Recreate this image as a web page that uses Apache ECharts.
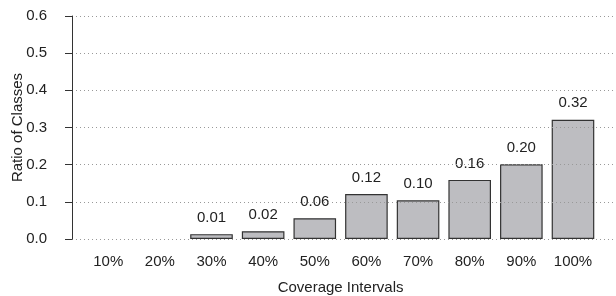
<!DOCTYPE html>
<html><head><meta charset="utf-8">
<script src="https://cdn.jsdelivr.net/npm/echarts@6/dist/echarts.min.js"></script>
<style>html,body{margin:0;padding:0;background:#fff}#c{width:616px;height:296px}</style>
</head><body><div id="c"></div>
<script>
const categories = ['10%','20%','30%','40%','50%','60%','70%','80%','90%','100%'];
const ratios = [0, 0, 0.013, 0.021, 0.056, 0.121, 0.104, 0.159, 0.201, 0.321];
const yTicks = [0, 0.1, 0.2, 0.3, 0.4, 0.5, 0.6];
const yName = 'Ratio of Classes';
const xName = 'Coverage Intervals';

const FONT = 'Liberation Sans, Arial, Helvetica, sans-serif';
const TXT = '#222';
const FS = 15;
const chart = echarts.init(document.getElementById('c'), null, {renderer:'canvas'});
chart.setOption({
  animation: false,
  grid: [
    {left: 72, right: 0, top: 16, bottom: 57, outerBoundsMode: 'none', containLabel: false},
    {left: 82.4, right: 17.2, top: 16, bottom: 57, outerBoundsMode: 'none', containLabel: false}
  ],
  xAxis: [
    {gridIndex: 0, type: 'value', show: false, min: 0, max: 1},
    {gridIndex: 1, type: 'category', data: categories,
     axisLine: {show: false}, axisTick: {show: false},
     axisLabel: {color: TXT, fontFamily: FONT, fontSize: FS, margin: 15},
     name: xName, nameLocation: 'middle', nameGap: 41, nameMoveOverlap: false,
     nameTextStyle: {color: TXT, fontFamily: FONT, fontSize: FS}}
  ],
  yAxis: [
    {gridIndex: 0, type: 'value', min: yTicks[0], max: yTicks[yTicks.length-1], interval: 0.1,
     offset: 5, zlevel: 1, z: 5,
     axisLine: {show: true, lineStyle: {color: '#333', width: 1}},
     axisTick: {show: true, length: 7, lineStyle: {color: '#333', width: 1}},
     axisLabel: {color: TXT, fontFamily: FONT, fontSize: FS, margin: 20,
       formatter: v => v.toFixed(1)},
     splitLine: {show: true, lineStyle: {color: '#999', type: [1, 3], width: 1}},
     name: yName, nameLocation: 'middle', nameGap: 42, nameMoveOverlap: false,
     nameTextStyle: {color: TXT, fontFamily: FONT, fontSize: FS}},
    {gridIndex: 1, type: 'value', min: yTicks[0], max: yTicks[yTicks.length-1], show: false}
  ],
  series: [{
    type: 'bar', xAxisIndex: 1, yAxisIndex: 1,
    data: ratios.map(v => v > 0 ? v : null),
    barCategoryGap: '17.5%',
    itemStyle: {color: '#bdbdc1', borderColor: '#333', borderWidth: 1.2},
    label: {show: true, position: 'top', distance: 9, color: TXT, fontFamily: FONT, fontSize: FS,
      formatter: p => p.value > 0 ? p.value.toFixed(2) : ''}
  }]
});
</script></body></html>
